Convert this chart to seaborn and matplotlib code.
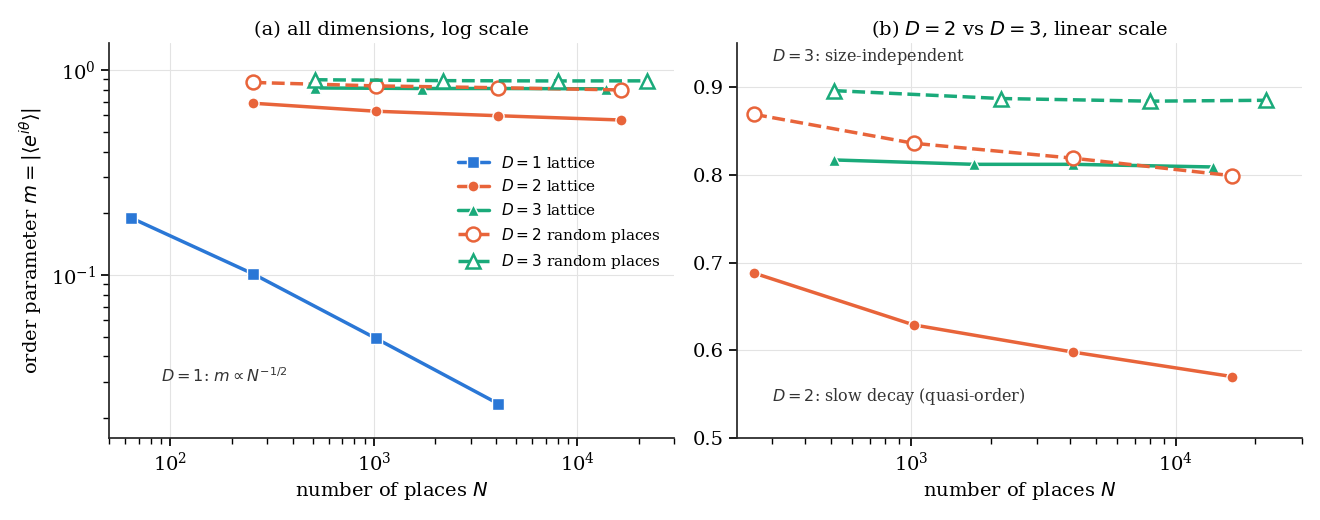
import numpy as np
import pandas as pd
import matplotlib
matplotlib.use("Agg")
import matplotlib.pyplot as plt
import seaborn as sns

sns.set_theme(style="ticks")
plt.rcParams['font.family'] = ['DejaVu Serif']
plt.rcParams['mathtext.fontset'] = 'dejavusans'
plt.rcParams['text.color'] = 'black'
plt.rcParams['axes.labelcolor'] = 'black'
plt.rcParams['xtick.color'] = 'black'
plt.rcParams['ytick.color'] = 'black'

n_d1 = [64, 256, 1024, 4096]
m_d1 = [0.19, 0.101, 0.049, 0.0235]
n_d2 = [256, 1024, 4096, 16384]
m_d2 = [0.688, 0.629, 0.598, 0.570]
n_d3 = [512, 1728, 4096, 13824]
m_d3 = [0.817, 0.812, 0.812, 0.809]
n_d2r = [256, 1024, 4096, 16384]
m_d2r = [0.869, 0.836, 0.819, 0.799]
n_d3r = [512, 2197, 8000, 21952]
m_d3r = [0.896, 0.887, 0.884, 0.885]

BLUE, ORANGE, GREEN = "#2a77d6", "#e8643a", "#1aaa7a"

fig, (a1, a2) = plt.subplots(1, 2, figsize=(13.2, 5.2), dpi=100)

def draw(ax, x, y, color, marker, ls, label, hollow=False, ms=8):
    sns.lineplot(x=x, y=y, ax=ax, color=color, marker=marker, linestyle=ls, lw=2.5,
                 markersize=ms, label=label,
                 markerfacecolor="white" if hollow else color,
                 markeredgecolor=color if hollow else "white",
                 markeredgewidth=1.8 if hollow else 1.0)

for ax, first in ((a1, True), (a2, False)):
    if first:
        draw(ax, n_d1, m_d1, BLUE, "s", "-", "$D=1$ lattice", ms=9)
    draw(ax, n_d2, m_d2, ORANGE, "o", "-", "$D=2$ lattice")
    draw(ax, n_d3, m_d3, GREEN, "^", "-", "$D=3$ lattice")
    draw(ax, n_d2r, m_d2r, ORANGE, "o", "--", "$D=2$ random places", hollow=True, ms=10)
    draw(ax, n_d3r, m_d3r, GREEN, "^", "--", "$D=3$ random places", hollow=True, ms=10)
    ax.set_xscale("log")
    ax.grid(True, color="#e3e3e3", lw=0.8)
    ax.set_xlabel("number of places $N$", fontsize=14)
    sns.despine(ax=ax)
    ax.tick_params(labelsize=14)

a1.set_yscale("log")
a1.set_xlim(50, 30000)
a1.set_ylim(0.016, 1.35)
a1.set_ylabel(r"order parameter $m=|\langle e^{i\theta}\rangle|$", fontsize=14)
a1.set_title("(a) all dimensions, log scale", fontsize=14)
a1.text(90, 0.03, r"$D=1$: $m \propto N^{-1/2}$", fontsize=11.5, color="#333333")
h, l = a1.get_legend_handles_labels()
a1.legend(h, l, loc="center right", bbox_to_anchor=(1.0, 0.57), frameon=False, fontsize=11)

a2.set_xlim(220, 30000)
a2.set_ylim(0.5, 0.95)
a2.set_yticks([0.5, 0.6, 0.7, 0.8, 0.9])
a2.set_title("(b) $D=2$ vs $D=3$, linear scale", fontsize=14)
a2.legend_.remove()
a2.text(300, 0.93, "$D=3$: size-independent", fontsize=11.5, color="#333333")
a2.text(300, 0.542, "$D=2$: slow decay (quasi-order)", fontsize=11.5, color="#333333")

fig.tight_layout()
fig.savefig("out.png", dpi=100)
